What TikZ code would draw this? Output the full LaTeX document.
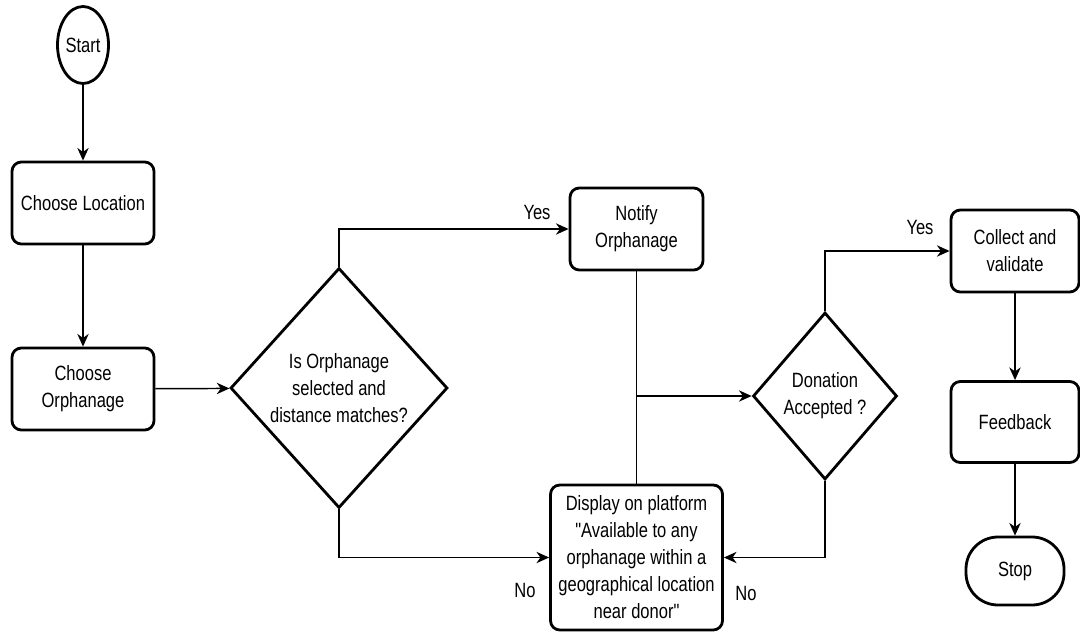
\documentclass[tikz,border=0pt]{standalone}
\usepackage{fontspec}
\newfontfamily\diagfont{Liberation Sans}[FakeStretch=0.8]
\usetikzlibrary{shapes.geometric,arrows.meta}
\begin{document}
\begin{tikzpicture}[x=0.75pt,y=-0.75pt,
  every node/.style={font=\diagfont\fontsize{15.5}{20.25}\selectfont, text=black},
  shapeline/.style={draw=black, line width=2.1pt},
  box/.style={shapeline, rounded corners=7pt, align=center, inner sep=0pt},
  dia/.style={shapeline, diamond, align=center, inner sep=0pt},
  arr/.style={line width=1.1pt, -{Stealth[length=9.5pt,width=8.5pt,inset=3pt]}},
  conn/.style={line width=1.1pt},
  lbl/.style={inner sep=0pt}]
\useasboundingbox (0,0) rectangle (1080,631);

\node[shapeline, ellipse, minimum width=38.25pt, minimum height=57.75pt, inner sep=0pt] (start) at (83,45) {Start};
\node[box, minimum width=106.5pt, minimum height=61.5pt] (cl) at (83,203) {Choose Location};
\node[box, minimum width=106.5pt, minimum height=61.5pt] (co) at (83,389) {Choose\\Orphanage};
\node[dia, minimum width=162.75pt, minimum height=180pt] (d1) at (339,388) {Is Orphanage\\selected and\\distance matches?};
\node[box, minimum width=99.75pt, minimum height=61.5pt] (notify) at (636.5,229) {Notify\\Orphanage};
\node[dia, minimum width=108pt, minimum height=125.25pt] (d2) at (825,396) {Donation\\Accepted ?};
\node[box, minimum width=129pt, minimum height=108.75pt] (disp) at (636.5,557.5) {Display on platform\\"Available to any\\orphanage within a\\geographical location\\near donor"};
\node[box, minimum width=96pt, minimum height=61.5pt] (collect) at (1015,251) {Collect and\\validate};
\node[box, minimum width=96pt, minimum height=60.75pt] (feedback) at (1015,422) {Feedback};
\node[shapeline, rounded corners=24pt, minimum width=73.5pt, minimum height=51pt, inner sep=0pt] (stop) at (1015,571) {Stop};

\node[lbl] (yes1) at (537,212) {Yes};
\node[lbl] (yes2) at (920,227) {Yes};
\node[lbl] (no1) at (525,590) {No};
\node[lbl] (no2) at (746,593) {No};

\draw[arr] (start) -- (cl);
\draw[arr] (cl) -- (co);
\draw[arr] (co) -- (d1);
\draw[arr] (d1.north) |- (notify.west);
\draw[arr] (d1.south) |- (disp.west);
\draw[conn] (notify.south) -- (disp.north);
\draw[arr] (notify.south |- d2.west) -- (d2.west);
\draw[arr] (d2.north) |- (collect.west);
\draw[arr] (d2.south) |- (disp.east);
\draw[arr] (collect) -- (feedback);
\draw[arr] (feedback) -- (stop);
\end{tikzpicture}
\end{document}
